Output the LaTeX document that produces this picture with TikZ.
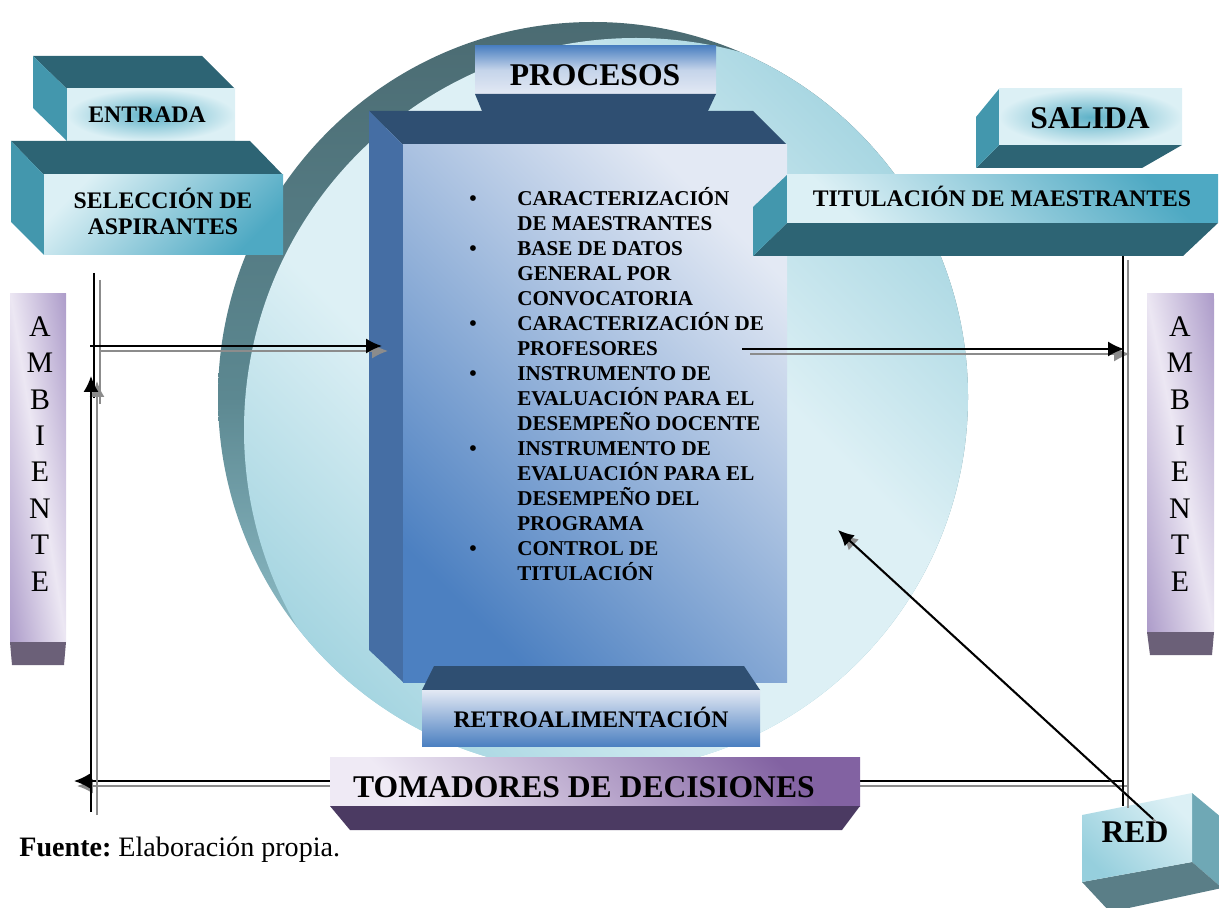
\documentclass[tikz,border=0pt]{standalone}
\usepackage{fontspec}
\setmainfont{Liberation Serif}
\usepackage{xcolor}
\usetikzlibrary{arrows.meta}

\definecolor{tealdark}{HTML}{2D6474}
\definecolor{tealside}{HTML}{4397AD}
\definecolor{teallight}{HTML}{DCF0F5}
\definecolor{tealglow}{HTML}{5FB2C8}
\definecolor{tealdeep}{HTML}{4EA9C3}
\definecolor{navytop}{HTML}{2F4F72}
\definecolor{blueside}{HTML}{456EA4}
\definecolor{bluedeep}{HTML}{4C80C1}
\definecolor{bluelight}{HTML}{E3E9F4}
\definecolor{lilaclight}{HTML}{EFEAF5}
\definecolor{lilacdeep}{HTML}{8262A2}
\definecolor{plumdark}{HTML}{4B3A62}
\definecolor{ambpurple}{HTML}{AC9BC9}
\definecolor{amblight}{HTML}{ECE7F3}
\definecolor{ambfoot}{HTML}{6B6078}
\definecolor{ringdark}{HTML}{4B6B72}
\definecolor{ringmid}{HTML}{5C8891}
\definecolor{ringlight}{HTML}{A8D8E3}
\definecolor{circteal}{HTML}{A3D4E0}
\definecolor{circlight}{HTML}{DDF0F5}
\definecolor{redside}{HTML}{6FA8B5}
\definecolor{redbottom}{HTML}{5A7E87}
\definecolor{redteal}{HTML}{96CFDD}
\definecolor{shadowgray}{HTML}{8C8C8C}

\pgfdeclarehorizontalshading{circshade}{100bp}{color(0bp)=(circteal); color(25bp)=(circteal); color(42bp)=(circlight); color(58bp)=(circlight); color(75bp)=(circteal); color(100bp)=(circteal)}

\tikzstyle{bigtext} = [inner sep=0pt, font=\fontsize{18}{20}\selectfont\bfseries]
\tikzstyle{midtext} = [inner sep=0pt, align=center, font=\fontsize{13.5}{15.3}\selectfont\bfseries]
\tikzstyle{listtext} = [inner sep=0pt, align=left, font=\fontsize{12}{14.2}\selectfont\bfseries]
\tikzstyle{ambtext} = [inner sep=0pt, align=center, font=\fontsize{17}{20.7}\selectfont]
\tikzstyle{arrow} = [line width=1.1pt, -{Latex[length=9pt,width=8.5pt]}]
\tikzstyle{shadowarrow} = [line width=1.1pt, shadowgray, -{Latex[length=9pt,width=8.5pt]}]
\tikzstyle{line} = [line width=1.1pt]
\tikzstyle{shadowline} = [line width=1.1pt, shadowgray]

\begin{document}
\begin{tikzpicture}[x=0.02cm, y=-0.02cm]
    \useasboundingbox (0,0) rectangle (1219,908);

    \shade[top color=ringdark, bottom color=ringlight, middle color=ringmid] (593,397) circle (375);
    \begin{scope}
        \clip (593,397) circle (375);
        \shade[shading=circshade, shading angle=45] (636,430) circle (392);
    \end{scope}

    \coordinate (bottom_r) at (1123,781);
    \coordinate (bottom_l) at (74,781);
    \coordinate (bottom_rs) at (1127,786);
    \coordinate (bottom_ls) at (77,786);
    \draw [shadowarrow] (bottom_rs) -- (bottom_ls);
    \draw [arrow] (bottom_r) -- (bottom_l);

    \fill[tealdark] (33,56) -- (202,56) -- (235,89) -- (67,89) -- cycle;
    \fill[tealside] (33,56) -- (67,89) -- (67,141) -- (33,108) -- cycle;
    \shade[inner color=tealglow, outer color=teallight] (67,89) rectangle (235,141);

    \fill[tealdark] (11,141) -- (250,141) -- (283,175) -- (44,175) -- cycle;
    \fill[tealside] (11,141) -- (44,175) -- (44,255) -- (11,222) -- cycle;
    \shade[top color=teallight, bottom color=tealdeep, shading angle=45] (44,175) rectangle (283,255);

    \shade[top color=bluedeep, bottom color=bluelight, middle color=bluelight!80!bluedeep] (475,46) rectangle (716,94);
    \fill[navytop] (475,94) -- (716,94) -- (708,111) -- (482,111) -- cycle;
    \fill[navytop] (369,111) -- (753,111) -- (787,145) -- (403,145) -- cycle;
    \fill[blueside] (369,111) -- (403,145) -- (403,682) -- (369,650) -- cycle;
    \shade[top color=bluelight, bottom color=bluedeep, shading angle=-45] (403,145) rectangle (787,682);

    \fill[navytop] (434,666) -- (744,666) -- (760,690) -- (422,690) -- cycle;
    \shade[top color=bluelight, bottom color=bluedeep] (422,690) rectangle (760,746);

    \fill[tealdark] (999,145) -- (1182,145) -- (1142,168) -- (976,168) -- cycle;
    \fill[tealside] (976,117) -- (999,89) -- (999,145) -- (976,168) -- cycle;
    \shade[inner color=tealglow, outer color=teallight] (999,89) rectangle (1182,145);

    \fill[tealdark] (787,223) -- (1218,223) -- (1183,256) -- (753,256) -- cycle;
    \fill[tealside] (753,207) -- (787,175) -- (787,223) -- (753,256) -- cycle;
    \shade[top color=tealdeep, bottom color=teallight, shading angle=-45] (787,175) rectangle (1218,223);

    \fill[path picture={
        \begin{scope}[transform canvas={rotate around={9.1:(38,468)}}]
            \shade[left color=ambpurple, right color=ambpurple, middle color=amblight] (-18,200) rectangle (94,736);
        \end{scope}}] (10,294) rectangle (66,642);
    \fill[ambfoot] (10,642) -- (66,642) -- (64,665) -- (12,665) -- cycle;
    \fill[path picture={
        \begin{scope}[transform canvas={rotate around={11.2:(1180,463)}}]
            \shade[left color=ambpurple, right color=ambpurple, middle color=amblight] (1114,190) rectangle (1246,736);
        \end{scope}}] (1147,294) rectangle (1214,632);
    \fill[ambfoot] (1147,632) -- (1214,632) -- (1212,655) -- (1150,655) -- cycle;

    \shade[top color=lilacdeep, bottom color=lilaclight, shading angle=-45] (330,757) rectangle (860,806);
    \fill[plumdark] (330,806) -- (860,806) -- (842,830) -- (350,830) -- cycle;

    \fill[redside] (1192,793) -- (1222,818) -- (1222,888) -- (1192,862) -- cycle;
    \fill[redbottom] (1082,882) -- (1192,862) -- (1222,888) -- (1110,912) -- cycle;
    \shade[top color=teallight, bottom color=redteal, shading angle=-45] (1082,815) -- (1192,793) -- (1192,862) -- (1082,882) -- cycle;

    \node (entrada) [midtext, anchor=base] at (147,123) {ENTRADA};
    \node (seleccion) [midtext, anchor=base] at (163,235) {SELECCIÓN DE\\ASPIRANTES};
    \node (procesos) [bigtext, anchor=base] at (595,86) {PROCESOS};
    \node (salida) [bigtext, anchor=base] at (1090,129) {SALIDA};
    \node (titulacion) [midtext, anchor=base] at (1002,207) {TITULACIÓN DE MAESTRANTES};
    \node (retro) [midtext, anchor=base] at (591,727) {RETROALIMENTACIÓN};
    \node (tomadores) [bigtext, anchor=base] at (584,797) {TOMADORES DE DECISIONES};
    \node (red) [bigtext, anchor=base] at (1135,842) {RED};
    \node (amb_left) [ambtext, anchor=base] at (40,591) {A\\M\\B\\I\\E\\N\\T\\E};
    \node (amb_right) [ambtext, anchor=base] at (1180,591) {A\\M\\B\\I\\E\\N\\T\\E};
    \node (lista) [listtext, anchor=base west] at (469,580) {%
        \makebox[0.96cm][l]{\textbullet}CARACTERIZACIÓN\\
        \hspace*{0.96cm}DE MAESTRANTES\\
        \makebox[0.96cm][l]{\textbullet}BASE DE DATOS\\
        \hspace*{0.96cm}GENERAL POR\\
        \hspace*{0.96cm}CONVOCATORIA\\
        \makebox[0.96cm][l]{\textbullet}CARACTERIZACIÓN DE\\
        \hspace*{0.96cm}PROFESORES\\
        \makebox[0.96cm][l]{\textbullet}INSTRUMENTO DE\\
        \hspace*{0.96cm}EVALUACIÓN PARA EL\\
        \hspace*{0.96cm}DESEMPEÑO DOCENTE\\
        \makebox[0.96cm][l]{\textbullet}INSTRUMENTO DE\\
        \hspace*{0.96cm}EVALUACIÓN PARA EL\\
        \hspace*{0.96cm}DESEMPEÑO DEL\\
        \hspace*{0.96cm}PROGRAMA\\
        \makebox[0.96cm][l]{\textbullet}CONTROL DE\\
        \hspace*{0.96cm}TITULACIÓN};
    \node (fuente) [inner sep=0pt, anchor=base west, font=\fontsize{16}{19}\selectfont] at (19,856) {\textbf{Fuente:}\ Elaboración propia.};

    \coordinate (left_top) at (94,273);
    \coordinate (left_mid) at (94,398);
    \coordinate (left_tops) at (100,280);
    \coordinate (left_mids) at (100,404);
    \coordinate (up_from) at (91,812);
    \coordinate (up_to) at (91,376);
    \coordinate (up_froms) at (97,815);
    \coordinate (up_tos) at (97,381);
    \coordinate (in_from) at (90,346);
    \coordinate (in_to) at (382,346);
    \coordinate (in_froms) at (99,351);
    \coordinate (in_tos) at (388,351);
    \coordinate (out_from) at (742,349);
    \coordinate (out_to) at (1124,349);
    \coordinate (out_froms) at (750,354);
    \coordinate (out_tos) at (1130,354);
    \coordinate (right_top) at (1123,256);
    \coordinate (right_bot) at (1123,806);
    \coordinate (right_tops) at (1128,260);
    \coordinate (right_bots) at (1128,808);
    \coordinate (red_from) at (1153,819);
    \coordinate (red_to) at (838,530);
    \coordinate (red_froms) at (1156,822);
    \coordinate (red_tos) at (842,534);

    \draw [shadowline] (left_tops) -- (left_mids);
    \draw [line] (left_top) -- (left_mid);
    \draw [shadowarrow] (up_froms) -- (up_tos);
    \draw [arrow] (up_from) -- (up_to);
    \draw [shadowarrow] (in_froms) -- (in_tos);
    \draw [arrow] (in_from) -- (in_to);
    \draw [shadowarrow] (out_froms) -- (out_tos);
    \draw [arrow] (out_from) -- (out_to);
    \draw [shadowline] (right_tops) -- (right_bots);
    \draw [line] (right_top) -- (right_bot);
    \draw [shadowarrow] (red_froms) -- (red_tos);
    \draw [arrow] (red_from) -- (red_to);
\end{tikzpicture}
\end{document}
